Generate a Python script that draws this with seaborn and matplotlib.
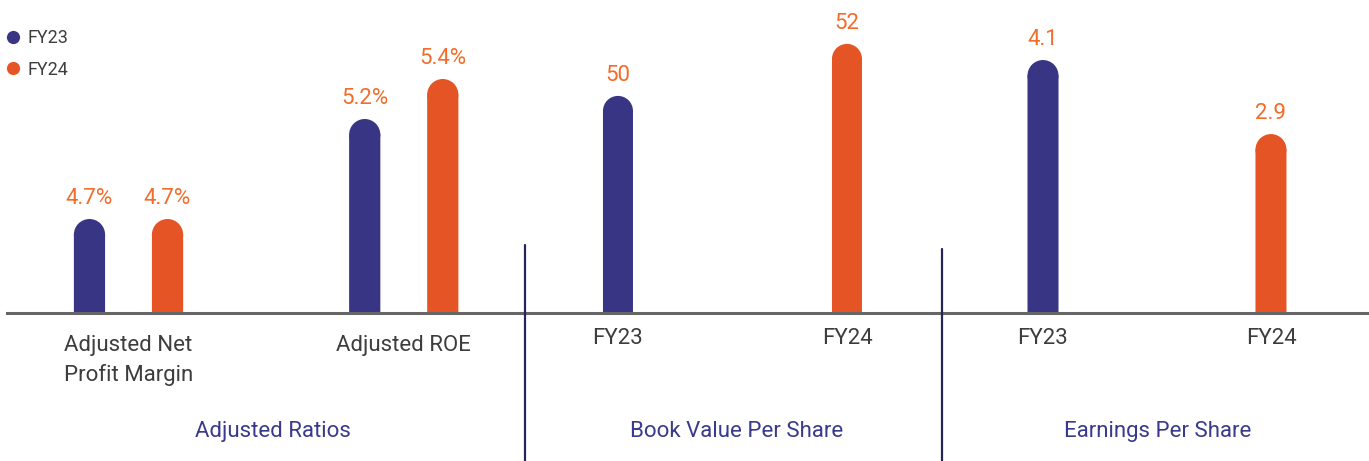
import matplotlib
matplotlib.use("Agg")
import matplotlib.pyplot as plt
from matplotlib.lines import Line2D
from matplotlib.patches import Ellipse
import pandas as pd
import seaborn as sns

# ---- data -------------------------------------------------------------
years = ["FY23", "FY24"]

ratio_metrics = ["Adjusted Net\nProfit Margin", "Adjusted ROE"]
ratios_fy23 = [4.7, 5.2]
ratios_fy24 = [4.7, 5.4]
ratio_labels_fy23 = ["4.7%", "5.2%"]
ratio_labels_fy24 = ["4.7%", "5.4%"]

book_value = [50, 52]
book_value_labels = ["50", "52"]

eps = [4.1, 2.9]
eps_labels = ["4.1", "2.9"]

group_titles = ["Adjusted Ratios", "Book Value Per Share", "Earnings Per Share"]

# ---- style ------------------------------------------------------------
NAVY = "#393585"
ORANGE = "#E55425"
LABEL_ORANGE = "#F36C2A"
TEXT_GREY = "#3d3d3d"
TITLE_NAVY = "#3a3a8c"
BASE_GREY = "#666666"
DIVIDER = "#25255a"
palette = {"FY23": NAVY, "FY24": ORANGE}

sns.set_theme(style="white")
plt.rcParams["font.family"] = ["Roboto", "DejaVu Sans"]

W, H = 1369, 461
DPI = 100
fig = plt.figure(figsize=(W / DPI, H / DPI), dpi=DPI)
fig.patch.set_facecolor("white")

BASE_Y = 313  # baseline, pixels from the top


def add_axes_px(x0, x1):
    return fig.add_axes([x0 / W, (H - BASE_Y) / H, (x1 - x0) / W, BASE_Y / H])


ax1 = add_axes_px(7, 525)
ax2 = add_axes_px(525, 942)
ax3 = add_axes_px(942, 1369)

bar_kw = dict(palette=palette, hue_order=years, saturation=1, legend=False,
              edgecolor="none", linewidth=0)

# Adjusted ratios: grouped bars
df_ratios = pd.DataFrame({
    "metric": ratio_metrics * 2,
    "year": [years[0]] * 2 + [years[1]] * 2,
    "value": ratios_fy23 + ratios_fy24,
})
sns.barplot(data=df_ratios, x="metric", y="value", hue="year",
            width=0.567, gap=0.60, ax=ax1, **bar_kw)
ax1.set_xlim(-0.4414, 1.4405)
ax1.set_ylim(4.23, 4.23 + BASE_Y / 200.0)

# Book value per share
df_bv = pd.DataFrame({"year": years, "value": book_value})
sns.barplot(data=df_bv, x="year", y="value", hue="year",
            width=0.131, dodge=False, ax=ax2, **bar_kw)
ax2.set_xlim(-0.406, 1.415)
ax2.set_ylim(41.65, 41.65 + BASE_Y / 26.0)

# Earnings per share
df_eps = pd.DataFrame({"year": years, "value": eps})
sns.barplot(data=df_eps, x="year", y="value", hue="year",
            width=0.136, dodge=False, ax=ax3, **bar_kw)
ax3.set_xlim(-0.443, 1.430)
ax3.set_ylim(0, BASE_Y / 61.7)


def round_tops(ax):
    """Give every bar a semicircular cap whose top sits at the bar value."""
    fig.canvas.draw()
    (px0, py0), (px1, py1) = ax.transData.transform([(0, 0), (1, 1)])
    px_per_x = abs(px1 - px0)
    px_per_y = abs(py1 - py0)
    for p in list(ax.patches):
        x0, w, h = p.get_x(), p.get_width(), p.get_height()
        r_y = (w * px_per_x / 2) / px_per_y
        p.set_height(h - r_y * 0.98)
        p.set_snap(False)
        cap = Ellipse((x0 + w / 2, h - r_y), w, 2 * r_y,
                      facecolor=p.get_facecolor(), edgecolor="none",
                      linewidth=0, zorder=p.get_zorder())
        ax.add_patch(cap)


def value_labels(ax, pairs):
    bars = sorted(ax.patches, key=lambda b: b.get_x())
    for bar, (val, txt) in zip(bars, pairs):
        ax.annotate(txt, (bar.get_x() + bar.get_width() / 2, val),
                    xytext=(0, 11), textcoords="offset points",
                    ha="center", va="baseline", fontsize=16,
                    color=LABEL_ORANGE, annotation_clip=False)


for ax in (ax1, ax2, ax3):
    ax.set_facecolor("none")
    ax.set_xlabel("")
    ax.set_ylabel("")
    ax.set_yticks([])
    for side in ("top", "left", "right"):
        ax.spines[side].set_visible(False)
    ax.spines["bottom"].set_color(BASE_GREY)
    ax.spines["bottom"].set_linewidth(2.2)
    ax.spines["bottom"].set_zorder(5)
    ax.tick_params(axis="x", length=0, pad=10.5, labelsize=16, labelcolor=TEXT_GREY)
    ax.grid(False)
ax1.tick_params(axis="x", pad=16)

# bars in ax1 ascend in x as: FY23/NPM, FY24/NPM, FY23/ROE, FY24/ROE
value_labels(ax1, [(ratios_fy23[0], ratio_labels_fy23[0]),
                   (ratios_fy24[0], ratio_labels_fy24[0]),
                   (ratios_fy23[1], ratio_labels_fy23[1]),
                   (ratios_fy24[1], ratio_labels_fy24[1])])
value_labels(ax2, list(zip(book_value, book_value_labels)))
value_labels(ax3, list(zip(eps, eps_labels)))

for ax in (ax1, ax2, ax3):
    round_tops(ax)

for lbl in ax1.get_xticklabels():
    lbl.set_linespacing(1.45)

# section dividers
for x, top in ((525, 245), (942, 249)):
    fig.add_artist(Line2D([x / W, x / W], [0, (H - top) / H],
                          transform=fig.transFigure, color=DIVIDER,
                          linewidth=1.6, zorder=1))

# section titles
for cx, title in zip((273, 737, 1158), group_titles):
    fig.text(cx / W, (H - 431) / H, title, ha="center", va="center",
             fontsize=16, color=TITLE_NAVY)

# legend
handles = [Line2D([], [], marker="o", linestyle="", markersize=9.5,
                  markerfacecolor=palette[y], markeredgecolor="none")
           for y in years]
fig.legend(handles, years, loc="upper left",
           bbox_to_anchor=(5 / W, 1 - 29 / H), frameon=False,
           fontsize=13, labelcolor=TEXT_GREY, handlelength=0.9,
           handletextpad=0.35, labelspacing=0.75, borderpad=0,
           borderaxespad=0)

fig.savefig("out.png", dpi=DPI, facecolor="white")
